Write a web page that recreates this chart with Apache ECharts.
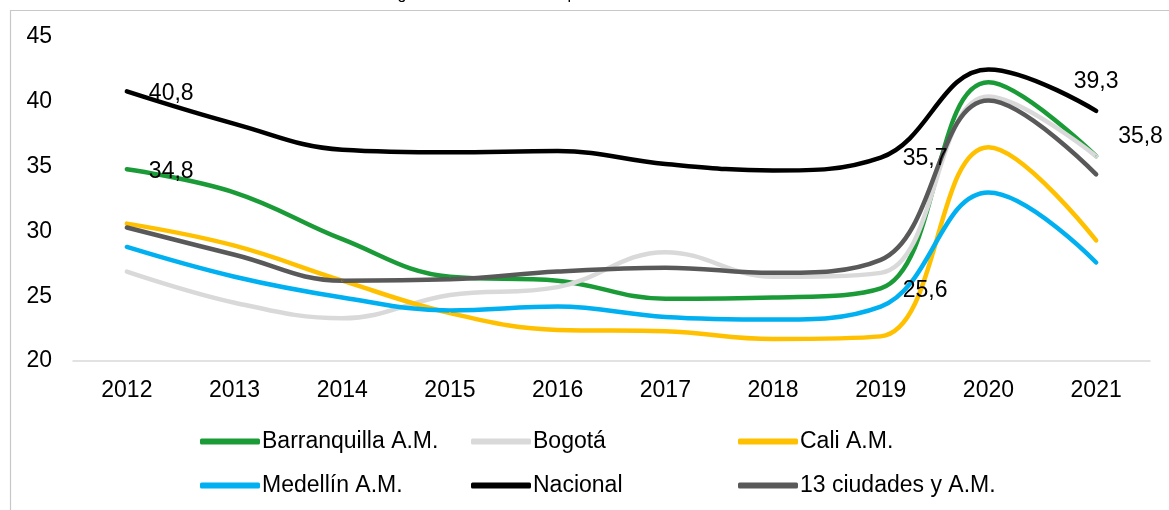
<!DOCTYPE html>
<html>
<head>
<meta charset="utf-8">
<script src="https://cdn.jsdelivr.net/npm/echarts@6/dist/echarts.min.js"></script>
<style>
  html, body { margin: 0; padding: 0; background: #fff; }
  #chart { width: 1169px; height: 510px; }
</style>
</head>
<body>
<div id="chart"></div>
<script>
// ---- Data ----
const years = ['2012', '2013', '2014', '2015', '2016', '2017', '2018', '2019', '2020', '2021'];
const barranquilla = [34.8, 33.0, 29.4, 26.5, 26.2, 24.8, 24.9, 25.6, 41.5, 35.8];
const bogota = [26.9, 24.5, 23.3, 25.1, 25.7, 28.4, 26.5, 26.8, 40.4, 35.8];
const cali = [30.6, 28.9, 26.2, 23.7, 22.4, 22.3, 21.7, 21.9, 36.5, 29.3];
const medellin = [28.8, 26.5, 24.9, 23.9, 24.2, 23.4, 23.2, 24.2, 33.0, 27.6];
const nacional = [40.8, 38.3, 36.3, 36.1, 36.2, 35.2, 34.7, 35.7, 42.5, 39.3];
const trece = [30.3, 28.2, 26.2, 26.3, 26.9, 27.2, 26.8, 27.8, 40.1, 34.4];
const seriesNames = ['Barranquilla A.M.', 'Bogotá', 'Cali A.M.', 'Medellín A.M.', 'Nacional', '13 ciudades y A.M.'];
const titleText = 'Figura 5. Incidencia de la pobreza monetaria 2012-2021';

// ---- Styles ----
const colors = ['#1B9B37', '#D9D9D9', '#FFC000', '#00B0F0', '#000000', '#595959'];
const FONT = 'Liberation Sans, Arial, sans-serif';
const FS = 23;

// labelled points: [series index, point index] -> label placement
const labelSpecs = {
  '4-0': { position: 'right', distance: 21, offset: [0, 2] },
  '0-0': { position: 'right', distance: 21, offset: [0, 2] },
  '4-7': { position: 'right', distance: 21, offset: [0, 1] },
  '0-7': { position: 'right', distance: 21, offset: [0, 2] },
  '4-9': { position: 'top', distance: 17 },
  '0-9': { position: 'right', distance: 21, offset: [0, -20] }
};

const values = [barranquilla, bogota, cali, medellin, nacional, trece];

const series = values.map((arr, si) => ({
  name: seriesNames[si],
  type: 'line',
  smooth: 0.4,
  symbol: 'circle',
  symbolSize: 2,
  showSymbol: true,
  color: colors[si],
  itemStyle: { color: colors[si] },
  lineStyle: { width: 4.5, color: colors[si], cap: 'round', join: 'round' },
  emphasis: { disabled: true },
  data: arr.map((v, i) => {
    const spec = labelSpecs[si + '-' + i];
    if (!spec) return v;
    return {
      value: v,
      label: Object.assign({
        show: true,
        color: '#000',
        fontSize: FS,
        fontFamily: FONT,
        formatter: p => String(p.value).replace('.', ',')
      }, spec)
    };
  })
}));

const legendBase = {
  orient: 'vertical',
  icon: 'roundRect',
  itemWidth: 60,
  itemHeight: 6,
  itemGap: 21,
  top: 425,
  textStyle: { fontSize: FS, fontFamily: FONT, color: '#000', padding: [0, 0, 0, -3] },
  selectedMode: false
};

const chart = echarts.init(document.getElementById('chart'), null, { renderer: 'canvas' });
chart.setOption({
  animation: false,
  backgroundColor: '#ffffff',
  textStyle: { fontFamily: FONT },
  graphic: [
    { type: 'rect', left: 8, top: 8, z: -1, silent: true,
      shape: { x: 0, y: 0, width: 1400, height: 700 },
      style: { fill: 'none', stroke: '#C8C8C8', lineWidth: 1.2 } },
    { type: 'text', x: 583, y: 2.5, silent: true,
      style: { text: titleText, fontSize: 16, fontFamily: FONT, fill: '#000',
               align: 'center', verticalAlign: 'bottom' } }
  ],
  grid: { left: 73, right: 19, top: 37, bottom: 149, containLabel: false },
  xAxis: {
    type: 'category',
    data: years,
    boundaryGap: true,
    axisLine: { show: true, lineStyle: { color: '#D9D9D9', width: 1.5 } },
    axisTick: { show: false },
    axisLabel: { color: '#000', fontSize: FS, fontFamily: FONT, margin: 18 },
    splitLine: { show: false }
  },
  yAxis: {
    type: 'value',
    min: 20, max: 45, interval: 5,
    axisLine: { show: false },
    axisTick: { show: false },
    axisLabel: { color: '#000', fontSize: FS, fontFamily: FONT, margin: 21 },
    splitLine: { show: false }
  },
  legend: [
    Object.assign({}, legendBase, { left: 195, data: [seriesNames[0], seriesNames[3]] }),
    Object.assign({}, legendBase, { left: 466, data: [seriesNames[1], seriesNames[4]] }),
    Object.assign({}, legendBase, { left: 733, data: [seriesNames[2], seriesNames[5]] })
  ],
  series: series
});
</script>
</body>
</html>
